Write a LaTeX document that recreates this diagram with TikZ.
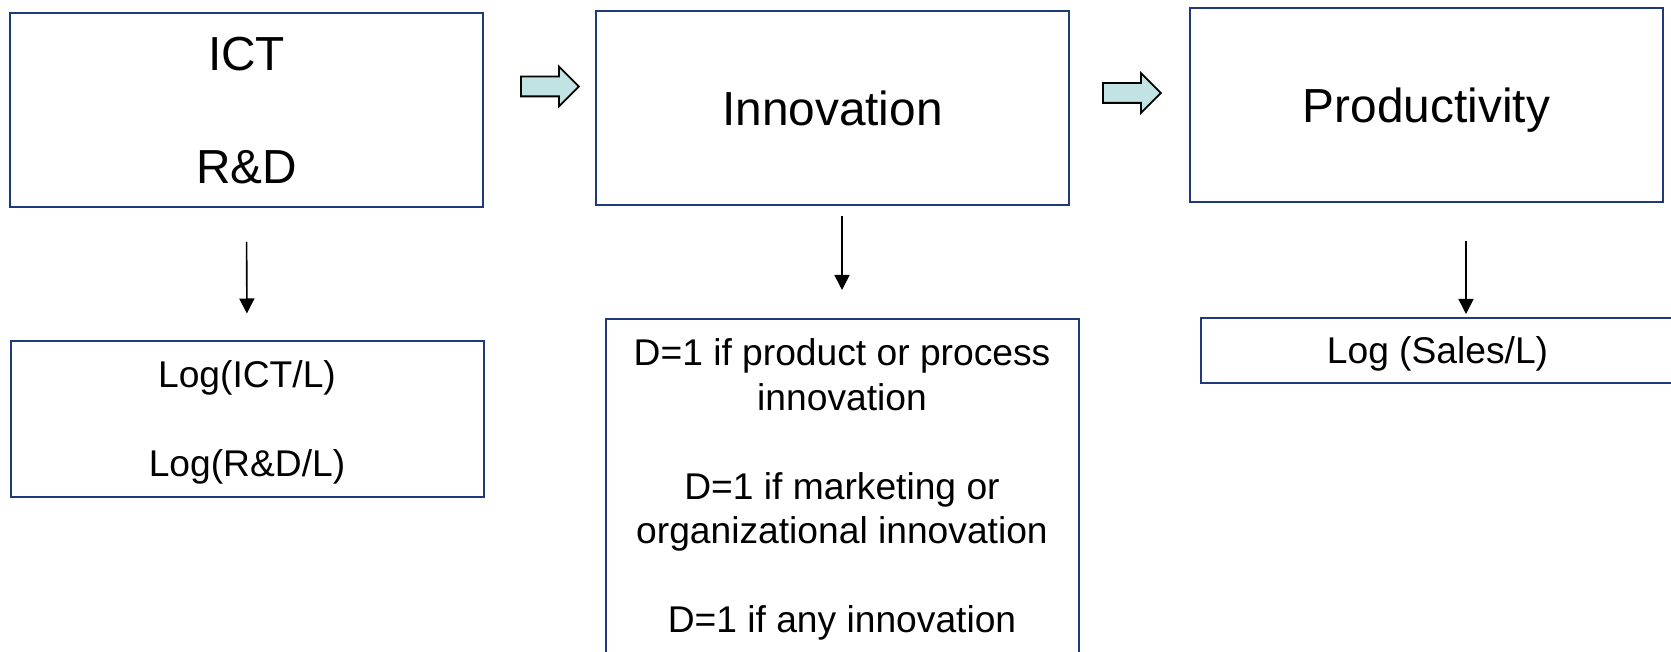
\documentclass[tikz,border=0pt]{standalone}
\usepackage{fontspec}
\setmainfont{Liberation Sans}
\usetikzlibrary{arrows.meta, positioning, shapes.arrows}
\definecolor{boxline}{HTML}{1F3A7A}
\definecolor{flowfill}{HTML}{C2E3E3}

\begin{document}
\begin{tikzpicture}[x=0.5pt, y=-0.5pt,
    topbox/.style={draw=boxline, line width=1pt, minimum width=236.5pt,
                   minimum height=97pt, inner sep=0pt, text depth=0pt,
                   align=center, font=\fontsize{23.9}{28.25}\selectfont},
    measbox/.style={draw=boxline, line width=1pt, minimum width=236.5pt,
                    inner sep=0pt, text depth=0pt, align=center,
                    font=\fontsize{18.6}{22.25}\selectfont},
    flow/.style={single arrow, draw=black, fill=flowfill, line width=0.9pt,
                 minimum height=29pt, single arrow head extend=5pt,
                 inner sep=4.5pt, anchor=tail},
    down/.style={-{Triangle[length=7.5pt, width=7.5pt]}, line width=0.8pt}]
  \useasboundingbox (0,0) rectangle (1671,652);

  % upper row: the three stages
  \node[topbox] (ict)  at (246.5,110) {ICT\\[28.25pt]R\&D};
  \node[topbox] (inn)  at (832.5,108) {Innovation};
  \node[topbox] (prod) at (1426.5,105) {Productivity};

  \node[flow] (flowa) at (520,86.5) {};
  \node[flow] (flowb) at (1102,93) {};

  % lower row: how each stage is measured
  \node[measbox, minimum height=77.5pt] (ictm) at (247,419)
    {Log(ICT/L)\\[22.25pt]Log(R\&D/L)};
  \node[measbox, anchor=north, inner ysep=10pt] (dmeas) at (842,318)
    {D=1 if product or process\\innovation\\[22.25pt]D=1 if marketing or\\
     organizational innovation\\[22.25pt]D=1 if any innovation};
  \node[measbox, minimum height=32.5pt] (sales) at (1437.5,350.5)
    {Log (Sales/L)};
  \coordinate (salesin) at ([xshift=14.25pt]sales.north);

  \draw[down, shorten <=17pt, shorten >=13.5pt] (ict.south) -- (ictm.north);
  \draw[down, shorten <=5pt, shorten >=14pt] (dmeas.north |- inn.south) -- (dmeas.north);
  \draw[down, shorten <=19pt, shorten >=1.5pt] (salesin |- prod.south) -- (salesin);
\end{tikzpicture}
\end{document}
